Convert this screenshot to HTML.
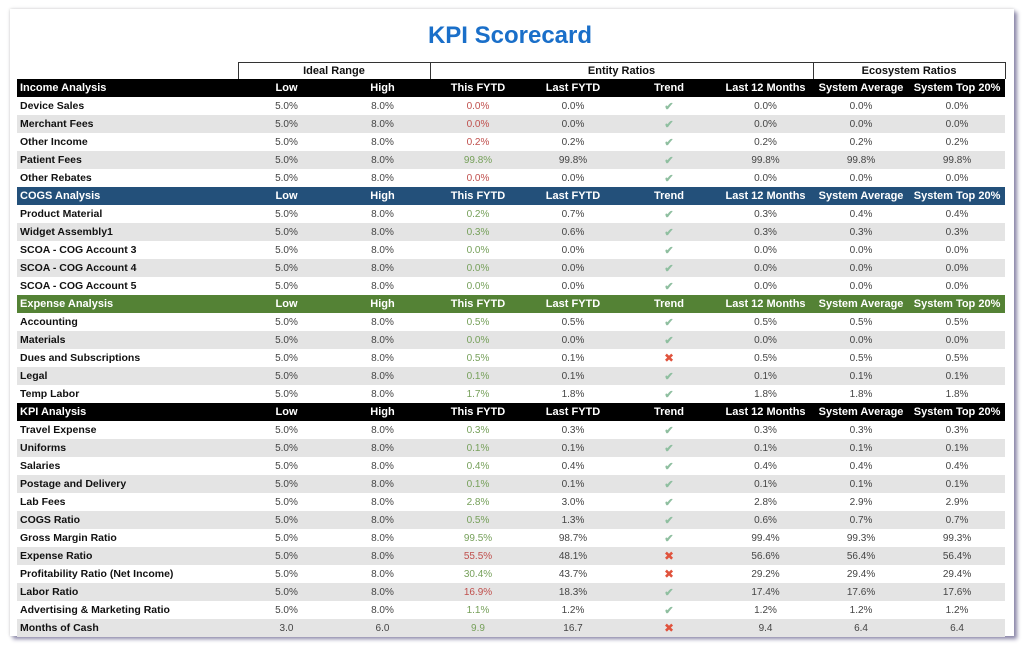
<!DOCTYPE html>
<html><head><meta charset="utf-8"><style>
html,body{margin:0;padding:0;background:#fff;}
body{width:1024px;height:648px;position:relative;overflow:hidden;font-family:"Liberation Sans",Arial,sans-serif;}
.card{position:absolute;left:10px;top:9px;width:1004px;height:627px;background:#fff;box-shadow:3px 3px 4px #8a86a8,0 0 3px #ccc;}
h1{position:absolute;left:0;top:22px;width:1020px;margin:0;text-align:center;font-size:24px;font-weight:bold;color:#1a6fc9;}
table{position:absolute;left:17px;top:62px;border-collapse:collapse;table-layout:fixed;width:988px;}
td{height:18px;padding:0;font-size:10px;text-align:center;color:#444;white-space:nowrap;overflow:hidden;}
td.n{text-align:left;padding-left:3px;font-weight:bold;color:#111;font-size:10.5px;}
tr.g td{font-weight:bold;font-size:11px;color:#111;height:16px;border-top:1px solid #333;}
tr.g td.b{border-left:1px solid #333;border-right:1px solid #333;}
tr.h td{font-weight:bold;color:#fff;font-size:11px;}
tr.h td.n{color:#fff;font-size:11px;}
tr.k td{background:#000;} tr.c td{background:#23507a;} tr.e td{background:#548235;}
tr.a td{background:#e4e4e4;}
.r{color:#c0504d!important}.gr{color:#76a05a!important}
.ck{color:#8fbfa0;font-size:11px;font-weight:bold}.x{color:#e0533d;font-size:12px}
</style></head><body>
<div class="card"></div>
<h1>KPI Scorecard</h1>
<table>
<colgroup><col style="width:221px"><col style="width:97px"><col style="width:95px"><col style="width:96px"><col style="width:94px"><col style="width:98px"><col style="width:95px"><col style="width:96px"><col style="width:96px"></colgroup>
<tr class="g"><td style="border-top:none"></td><td colspan="2" class="b">Ideal Range</td><td colspan="4" class="b">Entity Ratios</td><td colspan="2" class="b">Ecosystem Ratios</td></tr>
<tr class="h k"><td class="n">Income Analysis</td><td>Low</td><td>High</td><td>This FYTD</td><td>Last FYTD</td><td>Trend</td><td>Last 12 Months</td><td>System Average</td><td>System Top 20%</td></tr>
<tr><td class="n">Device Sales</td><td>5.0%</td><td>8.0%</td><td class="r">0.0%</td><td>0.0%</td><td class="ck">✔</td><td>0.0%</td><td>0.0%</td><td>0.0%</td></tr>
<tr class="a"><td class="n">Merchant Fees</td><td>5.0%</td><td>8.0%</td><td class="r">0.0%</td><td>0.0%</td><td class="ck">✔</td><td>0.0%</td><td>0.0%</td><td>0.0%</td></tr>
<tr><td class="n">Other Income</td><td>5.0%</td><td>8.0%</td><td class="r">0.2%</td><td>0.2%</td><td class="ck">✔</td><td>0.2%</td><td>0.2%</td><td>0.2%</td></tr>
<tr class="a"><td class="n">Patient Fees</td><td>5.0%</td><td>8.0%</td><td class="gr">99.8%</td><td>99.8%</td><td class="ck">✔</td><td>99.8%</td><td>99.8%</td><td>99.8%</td></tr>
<tr><td class="n">Other Rebates</td><td>5.0%</td><td>8.0%</td><td class="r">0.0%</td><td>0.0%</td><td class="ck">✔</td><td>0.0%</td><td>0.0%</td><td>0.0%</td></tr>
<tr class="h c"><td class="n">COGS Analysis</td><td>Low</td><td>High</td><td>This FYTD</td><td>Last FYTD</td><td>Trend</td><td>Last 12 Months</td><td>System Average</td><td>System Top 20%</td></tr>
<tr><td class="n">Product Material</td><td>5.0%</td><td>8.0%</td><td class="gr">0.2%</td><td>0.7%</td><td class="ck">✔</td><td>0.3%</td><td>0.4%</td><td>0.4%</td></tr>
<tr class="a"><td class="n">Widget Assembly1</td><td>5.0%</td><td>8.0%</td><td class="gr">0.3%</td><td>0.6%</td><td class="ck">✔</td><td>0.3%</td><td>0.3%</td><td>0.3%</td></tr>
<tr><td class="n">SCOA - COG Account 3</td><td>5.0%</td><td>8.0%</td><td class="gr">0.0%</td><td>0.0%</td><td class="ck">✔</td><td>0.0%</td><td>0.0%</td><td>0.0%</td></tr>
<tr class="a"><td class="n">SCOA - COG Account 4</td><td>5.0%</td><td>8.0%</td><td class="gr">0.0%</td><td>0.0%</td><td class="ck">✔</td><td>0.0%</td><td>0.0%</td><td>0.0%</td></tr>
<tr><td class="n">SCOA - COG Account 5</td><td>5.0%</td><td>8.0%</td><td class="gr">0.0%</td><td>0.0%</td><td class="ck">✔</td><td>0.0%</td><td>0.0%</td><td>0.0%</td></tr>
<tr class="h e"><td class="n">Expense Analysis</td><td>Low</td><td>High</td><td>This FYTD</td><td>Last FYTD</td><td>Trend</td><td>Last 12 Months</td><td>System Average</td><td>System Top 20%</td></tr>
<tr><td class="n">Accounting</td><td>5.0%</td><td>8.0%</td><td class="gr">0.5%</td><td>0.5%</td><td class="ck">✔</td><td>0.5%</td><td>0.5%</td><td>0.5%</td></tr>
<tr class="a"><td class="n">Materials</td><td>5.0%</td><td>8.0%</td><td class="gr">0.0%</td><td>0.0%</td><td class="ck">✔</td><td>0.0%</td><td>0.0%</td><td>0.0%</td></tr>
<tr><td class="n">Dues and Subscriptions</td><td>5.0%</td><td>8.0%</td><td class="gr">0.5%</td><td>0.1%</td><td class="x">✖</td><td>0.5%</td><td>0.5%</td><td>0.5%</td></tr>
<tr class="a"><td class="n">Legal</td><td>5.0%</td><td>8.0%</td><td class="gr">0.1%</td><td>0.1%</td><td class="ck">✔</td><td>0.1%</td><td>0.1%</td><td>0.1%</td></tr>
<tr><td class="n">Temp Labor</td><td>5.0%</td><td>8.0%</td><td class="gr">1.7%</td><td>1.8%</td><td class="ck">✔</td><td>1.8%</td><td>1.8%</td><td>1.8%</td></tr>
<tr class="h k"><td class="n">KPI Analysis</td><td>Low</td><td>High</td><td>This FYTD</td><td>Last FYTD</td><td>Trend</td><td>Last 12 Months</td><td>System Average</td><td>System Top 20%</td></tr>
<tr><td class="n">Travel Expense</td><td>5.0%</td><td>8.0%</td><td class="gr">0.3%</td><td>0.3%</td><td class="ck">✔</td><td>0.3%</td><td>0.3%</td><td>0.3%</td></tr>
<tr class="a"><td class="n">Uniforms</td><td>5.0%</td><td>8.0%</td><td class="gr">0.1%</td><td>0.1%</td><td class="ck">✔</td><td>0.1%</td><td>0.1%</td><td>0.1%</td></tr>
<tr><td class="n">Salaries</td><td>5.0%</td><td>8.0%</td><td class="gr">0.4%</td><td>0.4%</td><td class="ck">✔</td><td>0.4%</td><td>0.4%</td><td>0.4%</td></tr>
<tr class="a"><td class="n">Postage and Delivery</td><td>5.0%</td><td>8.0%</td><td class="gr">0.1%</td><td>0.1%</td><td class="ck">✔</td><td>0.1%</td><td>0.1%</td><td>0.1%</td></tr>
<tr><td class="n">Lab Fees</td><td>5.0%</td><td>8.0%</td><td class="gr">2.8%</td><td>3.0%</td><td class="ck">✔</td><td>2.8%</td><td>2.9%</td><td>2.9%</td></tr>
<tr class="a"><td class="n">COGS Ratio</td><td>5.0%</td><td>8.0%</td><td class="gr">0.5%</td><td>1.3%</td><td class="ck">✔</td><td>0.6%</td><td>0.7%</td><td>0.7%</td></tr>
<tr><td class="n">Gross Margin Ratio</td><td>5.0%</td><td>8.0%</td><td class="gr">99.5%</td><td>98.7%</td><td class="ck">✔</td><td>99.4%</td><td>99.3%</td><td>99.3%</td></tr>
<tr class="a"><td class="n">Expense Ratio</td><td>5.0%</td><td>8.0%</td><td class="r">55.5%</td><td>48.1%</td><td class="x">✖</td><td>56.6%</td><td>56.4%</td><td>56.4%</td></tr>
<tr><td class="n">Profitability Ratio (Net Income)</td><td>5.0%</td><td>8.0%</td><td class="gr">30.4%</td><td>43.7%</td><td class="x">✖</td><td>29.2%</td><td>29.4%</td><td>29.4%</td></tr>
<tr class="a"><td class="n">Labor Ratio</td><td>5.0%</td><td>8.0%</td><td class="r">16.9%</td><td>18.3%</td><td class="ck">✔</td><td>17.4%</td><td>17.6%</td><td>17.6%</td></tr>
<tr><td class="n">Advertising &amp; Marketing Ratio</td><td>5.0%</td><td>8.0%</td><td class="gr">1.1%</td><td>1.2%</td><td class="ck">✔</td><td>1.2%</td><td>1.2%</td><td>1.2%</td></tr>
<tr class="a"><td class="n">Months of Cash</td><td>3.0</td><td>6.0</td><td class="gr">9.9</td><td>16.7</td><td class="x">✖</td><td>9.4</td><td>6.4</td><td>6.4</td></tr>
</table>
</body></html>
